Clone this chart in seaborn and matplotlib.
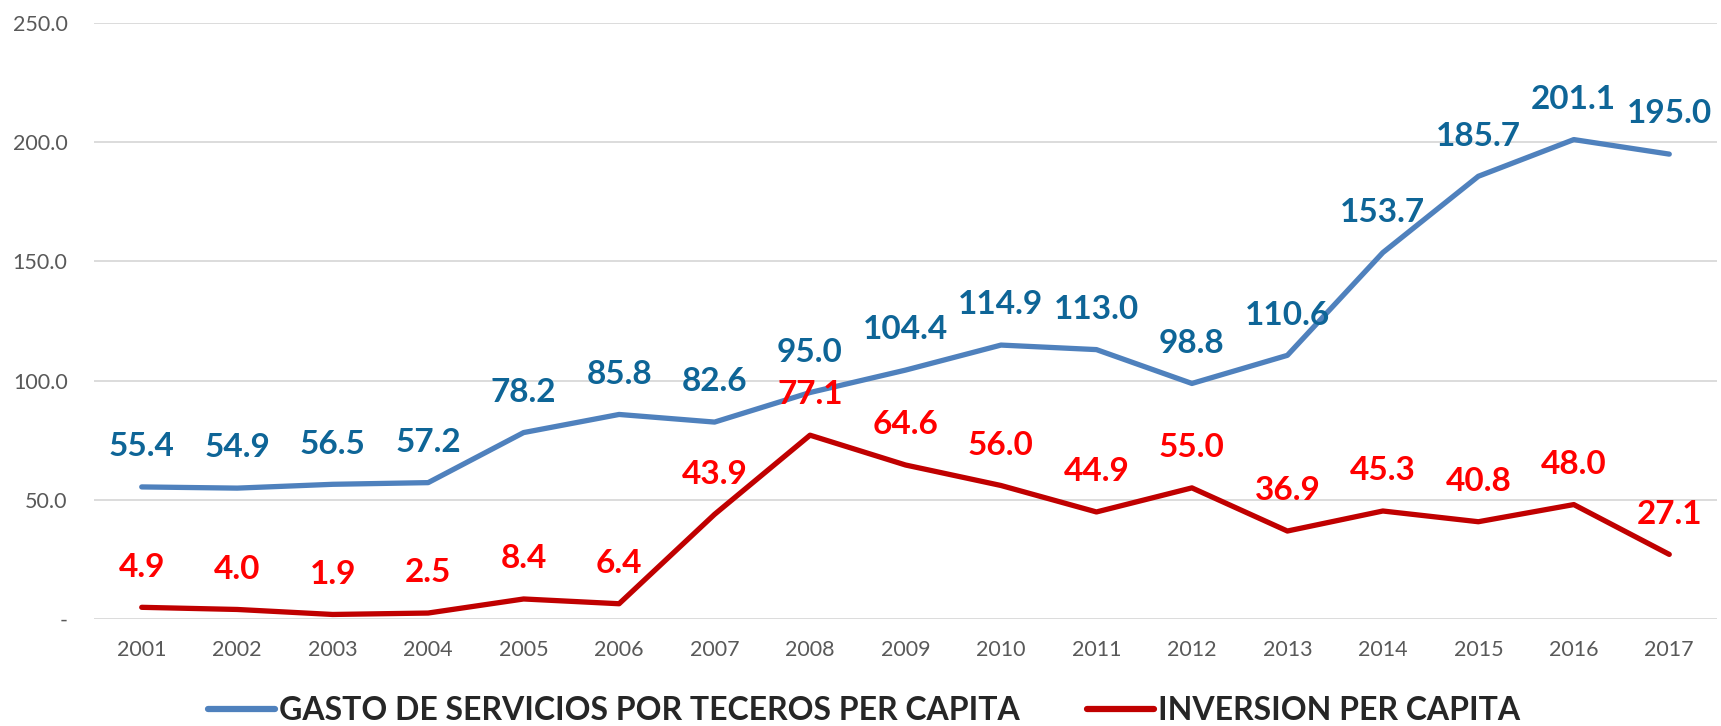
import matplotlib
matplotlib.use("Agg")
import matplotlib.pyplot as plt
from matplotlib.lines import Line2D
import seaborn as sns
import pandas as pd

years = [2001, 2002, 2003, 2004, 2005, 2006, 2007, 2008, 2009,
         2010, 2011, 2012, 2013, 2014, 2015, 2016, 2017]
gasto = [55.4, 54.9, 56.5, 57.2, 78.2, 85.8, 82.6, 95.0, 104.4,
         114.9, 113.0, 98.8, 110.6, 153.7, 185.7, 201.1, 195.0]
inversion = [4.9, 4.0, 1.9, 2.5, 8.4, 6.4, 43.9, 77.1, 64.6,
             56.0, 44.9, 55.0, 36.9, 45.3, 40.8, 48.0, 27.1]
series_names = ["GASTO DE SERVICIOS POR TECEROS PER CAPITA", "INVERSION PER CAPITA"]
y_ticks = [0, 50, 100, 150, 200, 250]

line_colors = ["#4F81BD", "#C00000"]
label_colors = ["#0E6597", "#FF0000"]

sns.set_theme(style="white")
plt.rcParams["font.family"] = ["Lato", "DejaVu Sans"]

df = pd.DataFrame({
    "year": years * 2,
    "value": gasto + inversion,
    "serie": [series_names[0]] * len(years) + [series_names[1]] * len(years),
})
df["pos"] = df["year"] - years[0]

fig = plt.figure(figsize=(17.21, 7.26), dpi=100)
ax = fig.add_axes([94 / 1721, 1 - 619 / 726, (1717 - 94) / 1721, (619 - 23) / 726])

sns.lineplot(data=df, x="pos", y="value", hue="serie", palette=line_colors,
             linewidth=3.8, ax=ax, legend=False, solid_capstyle="round")

# value labels above each point
for vals, col in zip([gasto, inversion], label_colors):
    for i, v in enumerate(vals):
        ax.annotate(f"{v:.1f}", (i, v), xytext=(0, 29), textcoords="offset points",
                    ha="center", va="center", fontsize=24, fontweight="bold", color=col)

ax.set_xlim(-0.5, len(years) - 0.5)
ax.set_ylim(0, 250)
ax.set_yticks(y_ticks)
ax.set_yticklabels(["-" if t == 0 else f"{t:.1f}" for t in y_ticks])
ax.set_xticks(range(len(years)))
ax.set_xticklabels([str(y) for y in years])
ax.tick_params(axis="both", colors="#595959", labelsize=15.5, length=0)
ax.tick_params(axis="x", pad=15)
ax.tick_params(axis="y", pad=19)
ax.grid(axis="y", color="#D9D9D9", linewidth=1.3)
ax.set_axisbelow(True)
for s in ax.spines.values():
    s.set_visible(False)
ax.set_xlabel("")
ax.set_ylabel("")

# legend along the bottom
handles = [Line2D([0], [0], color=c, linewidth=4.5, solid_capstyle="round") for c in line_colors]
fig.legend(handles, series_names, loc="center", bbox_to_anchor=(0.502, 1 - 711 / 726),
           ncol=2, frameon=False, handlelength=2.1, handletextpad=0.12, columnspacing=2.1,
           prop={"family": ["Lato", "DejaVu Sans"], "weight": "bold", "size": 23})

fig.savefig("out.png", dpi=100, facecolor="white")
